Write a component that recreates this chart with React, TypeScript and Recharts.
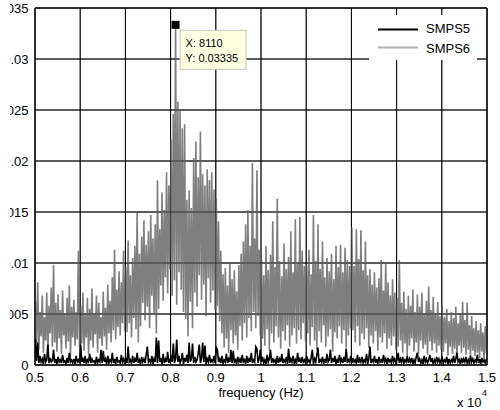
import React from 'react';
import {
  LineChart,
  Line,
  XAxis,
  YAxis,
  CartesianGrid,
  ReferenceLine,
  ReferenceDot,
  Legend,
  Label,
} from 'recharts';

const FONT = '"Liberation Sans", Arial, Helvetica, sans-serif';

// Spectrum bins: ten blocks of 40 bins, 25 Hz apart; block k starts at BLOCK_START_HZ[k]
const BLOCK_START_HZ = [5010, 6010, 7010, 8010, 9010, 10010, 11010, 12010, 13010, 14010];
const BIN_STEP_HZ = 25;

// SMPS6 spectrum magnitude, one array per 1 kHz block
const SMPS6_5k = [
  0.0063, 0.0021, 0.0081, 0.0015, 0.0052, 0.0028, 0.0068, 0.0012, 0.0047, 0.0024,
  0.0071, 0.0009, 0.0058, 0.0031, 0.0076, 0.0018, 0.0098, 0.0022, 0.0061, 0.0013,
  0.0069, 0.0026, 0.0054, 0.0011, 0.0073, 0.0029, 0.0049, 0.0016, 0.0066, 0.0023,
  0.0078, 0.0008, 0.0057, 0.0027, 0.0064, 0.0019, 0.0052, 0.0025, 0.0112, 0.0017,
];
const SMPS6_6k = [
  0.0058, 0.0021, 0.0071, 0.0014, 0.0049, 0.0027, 0.0066, 0.0010, 0.0055, 0.0024,
  0.0075, 0.0017, 0.0051, 0.0030, 0.0068, 0.0012, 0.0061, 0.0026, 0.0047, 0.0019,
  0.0072, 0.0028, 0.0056, 0.0015, 0.0079, 0.0031, 0.0063, 0.0022, 0.0086, 0.0034,
  0.0113, 0.0025, 0.0074, 0.0037, 0.0092, 0.0029, 0.0081, 0.0041, 0.0112, 0.0033,
];
const SMPS6_7k = [
  0.0096, 0.0032, 0.0122, 0.0041, 0.0088, 0.0027, 0.0105, 0.0046, 0.0117, 0.0035,
  0.0151, 0.0022, 0.0109, 0.0038, 0.0126, 0.0061, 0.0142, 0.0044, 0.0118, 0.0057,
  0.0131, 0.0036, 0.0147, 0.0068, 0.0124, 0.0049, 0.0138, 0.0031, 0.0181, 0.0055,
  0.0133, 0.0078, 0.0169, 0.0063, 0.0152, 0.0086, 0.0189, 0.0070, 0.0176, 0.0094,
];
const SMPS6_8k = [
  0.0221, 0.0068, 0.0246, 0.0083, 0.03335, 0.0059, 0.0258, 0.0091, 0.0249, 0.0074,
  0.0232, 0.0052, 0.0236, 0.0045, 0.0162, 0.0028, 0.0171, 0.0062, 0.0154, 0.0036,
  0.0203, 0.0071, 0.0219, 0.0057, 0.0184, 0.0088, 0.0229, 0.0064, 0.0187, 0.0079,
  0.0176, 0.0048, 0.0192, 0.0085, 0.0181, 0.0061, 0.0189, 0.0073, 0.0172, 0.0054,
];
const SMPS6_9k = [
  0.0163, 0.0058, 0.0141, 0.0043, 0.0112, 0.0031, 0.0089, 0.0017, 0.0095, 0.0026,
  0.0078, 0.0012, 0.0101, 0.0034, 0.0084, 0.0021, 0.0093, 0.0029, 0.0072, 0.0015,
  0.0098, 0.0038, 0.0109, 0.0024, 0.0121, 0.0041, 0.0138, 0.0027, 0.0152, 0.0046,
  0.0117, 0.0033, 0.0198, 0.0052, 0.0124, 0.0036, 0.0191, 0.0048, 0.0113, 0.0029,
];
const SMPS6_10k = [
  0.0104, 0.0026, 0.0088, 0.0019, 0.0117, 0.0035, 0.0093, 0.0014, 0.0108, 0.0031,
  0.0141, 0.0022, 0.0096, 0.0038, 0.0163, 0.0027, 0.0102, 0.0016, 0.0087, 0.0033,
  0.0119, 0.0024, 0.0094, 0.0039, 0.0106, 0.0018, 0.0131, 0.0029, 0.0091, 0.0036,
  0.0143, 0.0021, 0.0099, 0.0034, 0.0145, 0.0025, 0.0112, 0.0041, 0.0097, 0.0023,
];
const SMPS6_11k = [
  0.0098, 0.0031, 0.0113, 0.0019, 0.0089, 0.0037, 0.0147, 0.0024, 0.0102, 0.0015,
  0.0138, 0.0033, 0.0094, 0.0022, 0.0121, 0.0039, 0.0086, 0.0018, 0.0105, 0.0028,
  0.0092, 0.0035, 0.0109, 0.0013, 0.0084, 0.0032, 0.0117, 0.0026, 0.0096, 0.0038,
  0.0118, 0.0021, 0.0091, 0.0034, 0.0115, 0.0017, 0.0103, 0.0029, 0.0097, 0.0036,
];
const SMPS6_12k = [
  0.0135, 0.0034, 0.0097, 0.0022, 0.0133, 0.0038, 0.0104, 0.0019, 0.0132, 0.0031,
  0.0093, 0.0025, 0.0121, 0.0036, 0.0088, 0.0017, 0.0094, 0.0029, 0.0079, 0.0021,
  0.0091, 0.0033, 0.0076, 0.0014, 0.0085, 0.0027, 0.0103, 0.0022, 0.0073, 0.0031,
  0.0100, 0.0016, 0.0081, 0.0026, 0.0068, 0.0019, 0.0084, 0.0028, 0.0071, 0.0015,
];
const SMPS6_13k = [
  0.0066, 0.0018, 0.0103, 0.0024, 0.0061, 0.0012, 0.0072, 0.0021, 0.0055, 0.0009,
  0.0068, 0.0019, 0.0058, 0.0026, 0.0074, 0.0013, 0.0052, 0.0022, 0.0069, 0.0011,
  0.0057, 0.0024, 0.0071, 0.0016, 0.0049, 0.0020, 0.0063, 0.0010, 0.0077, 0.0023,
  0.0054, 0.0014, 0.0067, 0.0021, 0.0051, 0.0012, 0.0062, 0.0019, 0.0048, 0.0015,
];
const SMPS6_14k = [
  0.0058, 0.0013, 0.0047, 0.0021, 0.0055, 0.0009, 0.0043, 0.0018, 0.0052, 0.0011,
  0.0046, 0.0016, 0.0057, 0.0008, 0.0041, 0.0019, 0.0050, 0.0012, 0.0062, 0.0017,
  0.0044, 0.0010, 0.0061, 0.0015, 0.0039, 0.0008, 0.0048, 0.0014, 0.0036, 0.0009,
  0.0043, 0.0012, 0.0034, 0.0007, 0.0041, 0.0013, 0.0032, 0.0006, 0.0038, 0.0011,
];

// SMPS5 spectrum magnitude, one array per 1 kHz block
const SMPS5_5k = [
  0.0025, 0.0004, 0.0022, 0.0002, 0.0009, 0.0003, 0.0006, 0.0001, 0.0011, 0.0003,
  0.0005, 0.0020, 0.0002, 0.0007, 0.0003, 0.0004, 0.0015, 0.0002, 0.0006, 0.0001,
  0.0008, 0.0003, 0.0005, 0.0002, 0.0010, 0.0003, 0.0004, 0.0001, 0.0007, 0.0002,
  0.0012, 0.0003, 0.0005, 0.0002, 0.0006, 0.0001, 0.0009, 0.0003, 0.0005, 0.0002,
];
const SMPS5_6k = [
  0.0020, 0.0003, 0.0006, 0.0002, 0.0009, 0.0001, 0.0005, 0.0003, 0.0011, 0.0002,
  0.0006, 0.0003, 0.0004, 0.0001, 0.0008, 0.0002, 0.0005, 0.0003, 0.0015, 0.0002,
  0.0014, 0.0003, 0.0006, 0.0001, 0.0009, 0.0002, 0.0005, 0.0003, 0.0012, 0.0002,
  0.0006, 0.0001, 0.0008, 0.0003, 0.0004, 0.0002, 0.0010, 0.0003, 0.0006, 0.0001,
];
const SMPS5_7k = [
  0.0007, 0.0002, 0.0018, 0.0003, 0.0005, 0.0001, 0.0009, 0.0002, 0.0006, 0.0003,
  0.0012, 0.0002, 0.0005, 0.0001, 0.0008, 0.0003, 0.0006, 0.0002, 0.0010, 0.0018,
  0.0003, 0.0005, 0.0002, 0.0009, 0.0001, 0.0006, 0.0003, 0.0027, 0.0002, 0.0024,
  0.0003, 0.0007, 0.0001, 0.0011, 0.0002, 0.0006, 0.0003, 0.0013, 0.0002, 0.0005,
];
const SMPS5_8k = [
  0.0008, 0.0003, 0.0021, 0.0002, 0.0006, 0.0025, 0.0003, 0.0009, 0.0002, 0.0005,
  0.0012, 0.0001, 0.0007, 0.0003, 0.0010, 0.0002, 0.0022, 0.0003, 0.0006, 0.0021,
  0.0002, 0.0008, 0.0003, 0.0005, 0.0011, 0.0020, 0.0002, 0.0007, 0.0022, 0.0003,
  0.0019, 0.0001, 0.0006, 0.0003, 0.0010, 0.0002, 0.0005, 0.0003, 0.0009, 0.0002,
];
const SMPS5_9k = [
  0.0017, 0.0015, 0.0003, 0.0006, 0.0002, 0.0009, 0.0001, 0.0005, 0.0003, 0.0011,
  0.0002, 0.0006, 0.0003, 0.0015, 0.0002, 0.0014, 0.0003, 0.0005, 0.0001, 0.0008,
  0.0003, 0.0006, 0.0002, 0.0010, 0.0003, 0.0005, 0.0001, 0.0009, 0.0002, 0.0006,
  0.0003, 0.0012, 0.0002, 0.0005, 0.0003, 0.0018, 0.0016, 0.0002, 0.0006, 0.0015,
];
const SMPS5_10k = [
  0.0003, 0.0008, 0.0002, 0.0005, 0.0001, 0.0010, 0.0003, 0.0006, 0.0015, 0.0002,
  0.0007, 0.0003, 0.0005, 0.0001, 0.0009, 0.0002, 0.0006, 0.0003, 0.0011, 0.0002,
  0.0005, 0.0003, 0.0008, 0.0001, 0.0016, 0.0002, 0.0006, 0.0003, 0.0009, 0.0002,
  0.0005, 0.0001, 0.0012, 0.0003, 0.0006, 0.0002, 0.0008, 0.0003, 0.0005, 0.0002,
];
const SMPS5_11k = [
  0.0009, 0.0003, 0.0005, 0.0002, 0.0007, 0.0015, 0.0001, 0.0006, 0.0003, 0.0010,
  0.0017, 0.0002, 0.0005, 0.0003, 0.0008, 0.0001, 0.0006, 0.0002, 0.0011, 0.0003,
  0.0005, 0.0015, 0.0002, 0.0007, 0.0003, 0.0009, 0.0001, 0.0005, 0.0002, 0.0010,
  0.0003, 0.0006, 0.0002, 0.0008, 0.0003, 0.0016, 0.0002, 0.0005, 0.0003, 0.0009,
];
const SMPS5_12k = [
  0.0002, 0.0007, 0.0003, 0.0005, 0.0001, 0.0010, 0.0002, 0.0006, 0.0003, 0.0008,
  0.0002, 0.0005, 0.0003, 0.0011, 0.0001, 0.0006, 0.0018, 0.0002, 0.0005, 0.0003,
  0.0009, 0.0002, 0.0006, 0.0001, 0.0008, 0.0003, 0.0005, 0.0002, 0.0010, 0.0003,
  0.0006, 0.0001, 0.0007, 0.0003, 0.0005, 0.0002, 0.0009, 0.0003, 0.0006, 0.0002,
];
const SMPS5_13k = [
  0.0005, 0.0012, 0.0002, 0.0006, 0.0003, 0.0008, 0.0001, 0.0005, 0.0003, 0.0009,
  0.0002, 0.0006, 0.0003, 0.0007, 0.0001, 0.0005, 0.0002, 0.0008, 0.0012, 0.0003,
  0.0006, 0.0002, 0.0005, 0.0001, 0.0009, 0.0003, 0.0006, 0.0002, 0.0005, 0.0010,
  0.0003, 0.0007, 0.0001, 0.0005, 0.0002, 0.0008, 0.0003, 0.0006, 0.0002, 0.0005,
];
const SMPS5_14k = [
  0.0007, 0.0002, 0.0005, 0.0003, 0.0008, 0.0001, 0.0006, 0.0002, 0.0005, 0.0003,
  0.0009, 0.0002, 0.0006, 0.0012, 0.0003, 0.0005, 0.0001, 0.0007, 0.0002, 0.0006,
  0.0003, 0.0008, 0.0002, 0.0005, 0.0001, 0.0009, 0.0003, 0.0006, 0.0002, 0.0005,
  0.0003, 0.0010, 0.0002, 0.0006, 0.0001, 0.0007, 0.0003, 0.0005, 0.0002, 0.0006,
];

const SMPS6_BLOCKS = [SMPS6_5k, SMPS6_6k, SMPS6_7k, SMPS6_8k, SMPS6_9k, SMPS6_10k, SMPS6_11k, SMPS6_12k, SMPS6_13k, SMPS6_14k];
const SMPS5_BLOCKS = [SMPS5_5k, SMPS5_6k, SMPS5_7k, SMPS5_8k, SMPS5_9k, SMPS5_10k, SMPS5_11k, SMPS5_12k, SMPS5_13k, SMPS5_14k];

// Axis ticks (frequency axis is shown in units of 10^4 Hz)
const X_TICKS = [5000, 6000, 7000, 8000, 9000, 10000, 11000, 12000, 13000, 14000, 15000];
const X_TICK_LABELS = ['0.5', '0.6', '0.7', '0.8', '0.9', '1', '1.1', '1.2', '1.3', '1.4', '1.5'];
const Y_TICKS = [0, 0.005, 0.01, 0.015, 0.02, 0.025, 0.03, 0.035];
const Y_TICK_LABELS = ['0', '0.005', '0.01', '0.015', '0.02', '0.025', '0.03', '0.035'];

const SERIES = [
  { key: 'smps5', name: 'SMPS5', color: '#000000', legendColor: '#000000' },
  { key: 'smps6', name: 'SMPS6', color: '#7f7f7f', legendColor: '#b0b0b0' },
];

type Row = { f: number; smps5: number; smps6: number };

const rows: Row[] = BLOCK_START_HZ.flatMap((start, b) =>
  SMPS6_BLOCKS[b].map((v, j) => ({
    f: start + j * BIN_STEP_HZ,
    smps6: v,
    smps5: SMPS5_BLOCKS[b][j],
  }))
);

// Strongest SMPS6 bin, marked with a data tip
const peak = rows.reduce((best, r) => (r.smps6 > best.smps6 ? r : best), rows[0]);

const XTick = (props: any) => {
  const { x, y, payload } = props;
  const i = X_TICKS.indexOf(payload.value);
  return (
    <text x={x} y={y + 17} textAnchor="middle" fontSize={13} fontFamily={FONT} fill="#000">
      {X_TICK_LABELS[i]}
    </text>
  );
};

const YTick = (props: any) => {
  const { x, y, payload } = props;
  const i = Y_TICKS.indexOf(payload.value);
  return (
    <text x={x} y={y + 5} textAnchor="end" fontSize={13} fontFamily={FONT} fill="#000">
      {Y_TICK_LABELS[i]}
    </text>
  );
};

const AxisCaption = (props: any) => {
  const { x, y, width } = props.viewBox;
  return (
    <g fontFamily={FONT} fill="#000">
      <text x={x + width / 2} y={y + 32} textAnchor="middle" fontSize={13}>
        frequency (Hz)
      </text>
      <text x={x + width - 30} y={y + 42} fontSize={13}>
        x 10
      </text>
      <text x={x + width - 5} y={y + 31} fontSize={9}>
        4
      </text>
    </g>
  );
};

const DataTip = (props: any) => {
  const { cx, cy } = props;
  return (
    <g fontFamily={FONT}>
      <rect x={cx - 4} y={cy - 4} width={8} height={8} fill="#000" />
      <rect x={cx + 4.5} y={cy + 5.5} width={66} height={39} fill="#ffffe1" stroke="#c8c8c8" />
      <text x={cx + 10} y={cy + 22} fontSize={11} fill="#000">
        X: {peak.f}
      </text>
      <text x={cx + 10} y={cy + 37.5} fontSize={11} fill="#000">
        Y: {peak.smps6}
      </text>
    </g>
  );
};

const LegendBox = () => (
  <div style={{ width: 108, height: 45, background: '#fff' }}>
    <svg width={108} height={45} style={{ display: 'block' }}>
      {SERIES.map((s, i) => (
        <g key={s.key}>
          <line x1={9} x2={49} y1={14.5 + i * 18} y2={14.5 + i * 18} stroke={s.legendColor} strokeWidth={2} />
          <text x={57} y={18.3 + i * 19.3} fontSize={13} fontFamily={FONT} fill="#000">
            {s.name}
          </text>
        </g>
      ))}
    </svg>
  </div>
);

export default function App() {
  return (
    <div style={{ position: 'absolute', left: 0, top: 0, width: 500, height: 410, background: '#fff', overflow: 'hidden' }}>
      <LineChart width={500} height={410} data={rows} margin={{ top: 8, right: 13, bottom: 0, left: 0 }}>
        <CartesianGrid stroke="#000" strokeWidth={1} />
        <XAxis
          dataKey="f"
          type="number"
          domain={[5000, 15000]}
          ticks={X_TICKS}
          interval={0}
          height={45}
          tickSize={0}
          tickMargin={0}
          tickLine={false}
          axisLine={{ stroke: '#000' }}
          tick={<XTick />}
          allowDataOverflow
        >
          <Label content={AxisCaption} />
        </XAxis>
        <YAxis
          type="number"
          domain={[0, 0.035]}
          ticks={Y_TICKS}
          interval={0}
          width={35}
          tickSize={0}
          tickMargin={6.5}
          tickLine={false}
          axisLine={{ stroke: '#000' }}
          tick={<YTick />}
          allowDataOverflow
        />
        <Line
          dataKey="smps6"
          name="SMPS6"
          type="linear"
          stroke="#7f7f7f"
          strokeWidth={1.6}
          strokeLinejoin="miter"
          dot={false}
          activeDot={false}
          isAnimationActive={false}
        />
        <Line
          dataKey="smps5"
          name="SMPS5"
          type="linear"
          stroke="#000"
          strokeWidth={1.6}
          dot={false}
          activeDot={false}
          isAnimationActive={false}
        />
        {/* grid lines repeated faintly over the traces */}
        {X_TICKS.map((t) => (
          <ReferenceLine key={`gx${t}`} x={t} stroke="#000" strokeOpacity={0.55} />
        ))}
        {Y_TICKS.map((t) => (
          <ReferenceLine key={`gy${t}`} y={t} stroke="#000" strokeOpacity={0.55} />
        ))}
        <ReferenceLine y={0.035} stroke="#000" />
        <ReferenceLine x={15000} stroke="#000" />
        <ReferenceDot x={peak.f} y={peak.smps6} shape={DataTip} />
        <Legend
          layout="horizontal"
          verticalAlign="middle"
          align="center"
          content={<LegendBox />}
          wrapperStyle={{ left: 369, top: 15, width: 108, height: 45 }}
        />
      </LineChart>
      {/* trims the left edge of the y tick labels */}
      <div style={{ position: 'absolute', left: 0, top: 0, width: 10, height: 410, background: '#fff' }} />
    </div>
  );
}
